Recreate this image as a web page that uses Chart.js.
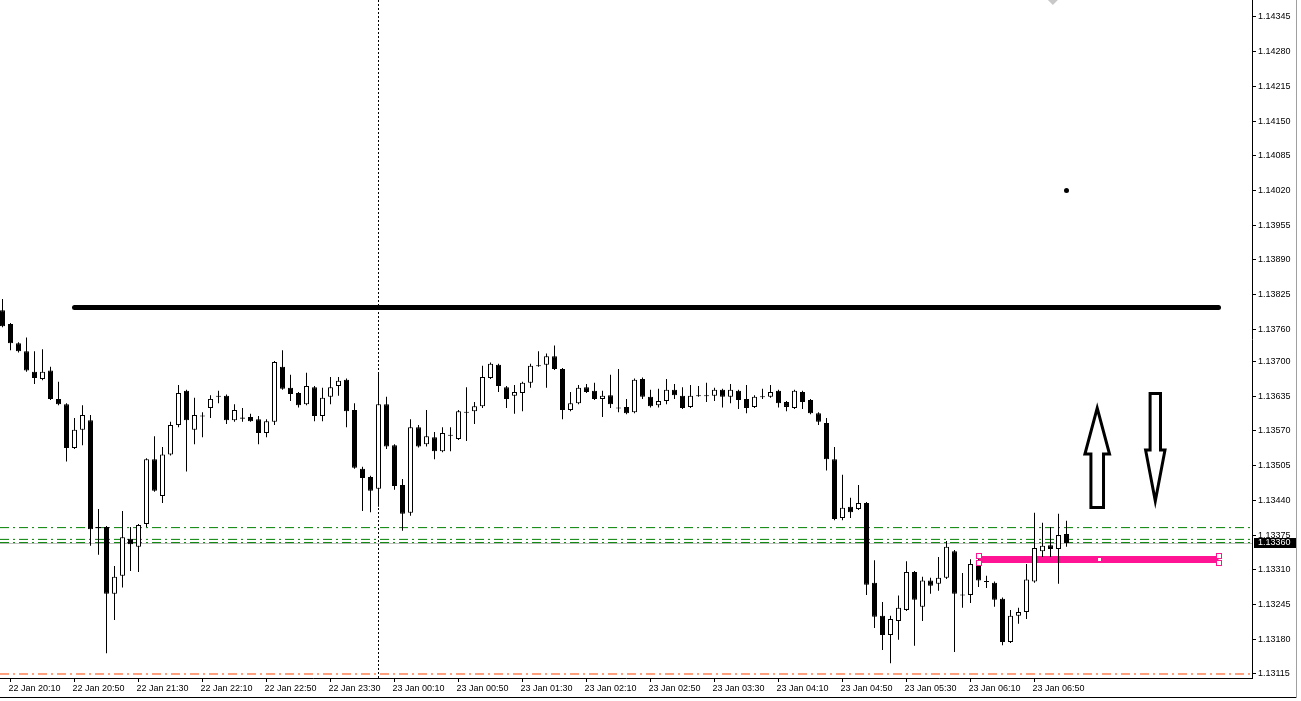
<!DOCTYPE html>
<html>
<head>
<meta charset="utf-8">
<script src="https://cdn.jsdelivr.net/npm/chart.js@4.4.1/dist/chart.umd.min.js"></script>
<style>
  html, body { margin: 0; padding: 0; background: #fff; }
  #wrap { width: 1301px; height: 701px; position: relative; }
</style>
</head>
<body>
<div id="wrap"><canvas id="chart"></canvas></div>
<script>
// M5 bars, first bar is 22 Jan 20:05
const openP = [
  1.13796, 1.13770, 1.13734, 1.13719, 1.13681, 1.13667, 1.13683, 1.13630, 1.13620, 1.13538,
  1.13572, 1.13590, 1.13390, 1.13390, 1.13265, 1.13299, 1.13368, 1.13353, 1.13396, 1.13517,
  1.13448, 1.13526, 1.13581, 1.13645, 1.13572, 1.13597, 1.13613, 1.13634, 1.13636, 1.13590,
  1.13593, 1.13596, 1.13592, 1.13566, 1.13587, 1.13690, 1.13651, 1.13641, 1.13620, 1.13652,
  1.13598, 1.13634, 1.13654, 1.13666, 1.13609, 1.13499, 1.13484, 1.13462, 1.13620, 1.13543,
  1.13469, 1.13417, 1.13577, 1.13545, 1.13558, 1.13532, 1.13561, 1.13555, 1.13604, 1.13607,
  1.13616, 1.13669, 1.13694, 1.13652, 1.13636, 1.13641, 1.13660, 1.13691, 1.13694, 1.13710,
  1.13686, 1.13609, 1.13622, 1.13652, 1.13645, 1.13630, 1.13637, 1.13612, 1.13615, 1.13605,
  1.13667, 1.13634, 1.13618, 1.13626, 1.13647, 1.13636, 1.13615, 1.13635, 1.13635, 1.13636,
  1.13647, 1.13634, 1.13645, 1.13630, 1.13615, 1.13633, 1.13634, 1.13645, 1.13624, 1.13613,
  1.13643, 1.13628, 1.13603, 1.13585, 1.13517, 1.13407, 1.13428, 1.13424, 1.13435, 1.13286,
  1.13224, 1.13188, 1.13214, 1.13235, 1.13306, 1.13241, 1.13290, 1.13284, 1.13295, 1.13345,
  1.13264, 1.13263, 1.13321, 1.13289, 1.13286, 1.13256, 1.13175, 1.13224, 1.13231, 1.13288,
  1.13345, 1.13356, 1.13349, 1.13377
];
const highP = [
  1.13817, 1.13772, 1.13736, 1.13745, 1.13719, 1.13723, 1.13690, 1.13662, 1.13622, 1.13594,
  1.13618, 1.13600, 1.13424, 1.13392, 1.13317, 1.13420, 1.13390, 1.13396, 1.13519, 1.13560,
  1.13540, 1.13587, 1.13656, 1.13647, 1.13632, 1.13605, 1.13637, 1.13645, 1.13638, 1.13620,
  1.13613, 1.13602, 1.13598, 1.13592, 1.13701, 1.13721, 1.13675, 1.13643, 1.13679, 1.13654,
  1.13651, 1.13671, 1.13671, 1.13668, 1.13622, 1.13503, 1.13486, 1.13679, 1.13634, 1.13545,
  1.13480, 1.13592, 1.13581, 1.13609, 1.13568, 1.13577, 1.13577, 1.13609, 1.13652, 1.13624,
  1.13692, 1.13698, 1.13696, 1.13654, 1.13656, 1.13662, 1.13696, 1.13719, 1.13715, 1.13730,
  1.13688, 1.13643, 1.13656, 1.13658, 1.13660, 1.13645, 1.13675, 1.13686, 1.13630, 1.13668,
  1.13670, 1.13647, 1.13649, 1.13667, 1.13658, 1.13652, 1.13656, 1.13654, 1.13660, 1.13651,
  1.13649, 1.13658, 1.13647, 1.13656, 1.13637, 1.13649, 1.13656, 1.13647, 1.13626, 1.13647,
  1.13645, 1.13630, 1.13605, 1.13594, 1.13540, 1.13488, 1.13445, 1.13469, 1.13437, 1.13328,
  1.13250, 1.13224, 1.13262, 1.13326, 1.13308, 1.13297, 1.13295, 1.13334, 1.13364, 1.13347,
  1.13304, 1.13330, 1.13330, 1.13299, 1.13288, 1.13258, 1.13235, 1.13239, 1.13321, 1.13417,
  1.13398, 1.13390, 1.13415, 1.13402
];
const lowP = [
  1.13764, 1.13721, 1.13717, 1.13681, 1.13658, 1.13665, 1.13628, 1.13618, 1.13513, 1.13536,
  1.13543, 1.13355, 1.13338, 1.13154, 1.13216, 1.13277, 1.13308, 1.13306, 1.13390, 1.13456,
  1.13435, 1.13524, 1.13577, 1.13494, 1.13545, 1.13558, 1.13594, 1.13622, 1.13583, 1.13587,
  1.13587, 1.13587, 1.13545, 1.13558, 1.13581, 1.13647, 1.13626, 1.13614, 1.13618, 1.13588,
  1.13588, 1.13620, 1.13636, 1.13577, 1.13499, 1.13420, 1.13418, 1.13428, 1.13536, 1.13460,
  1.13383, 1.13411, 1.13539, 1.13541, 1.13517, 1.13530, 1.13532, 1.13553, 1.13551, 1.13583,
  1.13613, 1.13667, 1.13643, 1.13613, 1.13602, 1.13607, 1.13651, 1.13690, 1.13651, 1.13684,
  1.13592, 1.13607, 1.13620, 1.13641, 1.13628, 1.13596, 1.13613, 1.13605, 1.13601, 1.13603,
  1.13630, 1.13614, 1.13614, 1.13620, 1.13630, 1.13611, 1.13613, 1.13634, 1.13624, 1.13626,
  1.13614, 1.13622, 1.13611, 1.13603, 1.13613, 1.13630, 1.13632, 1.13614, 1.13607, 1.13611,
  1.13611, 1.13601, 1.13581, 1.13496, 1.13403, 1.13403, 1.13407, 1.13422, 1.13263, 1.13201,
  1.13160, 1.13135, 1.13179, 1.13233, 1.13168, 1.13214, 1.13265, 1.13271, 1.13293, 1.13156,
  1.13239, 1.13248, 1.13278, 1.13276, 1.13241, 1.13169, 1.13173, 1.13209, 1.13218, 1.13286,
  1.13334, 1.13334, 1.13284, 1.13353
];
const closeP = [
  1.13766, 1.13734, 1.13719, 1.13683, 1.13669, 1.13681, 1.13630, 1.13620, 1.13538, 1.13572,
  1.13600, 1.13386, 1.13388, 1.13265, 1.13297, 1.13371, 1.13358, 1.13394, 1.13517, 1.13458,
  1.13526, 1.13581, 1.13641, 1.13590, 1.13600, 1.13599, 1.13630, 1.13636, 1.13590, 1.13609,
  1.13595, 1.13588, 1.13566, 1.13588, 1.13699, 1.13649, 1.13639, 1.13618, 1.13654, 1.13598,
  1.13632, 1.13652, 1.13664, 1.13607, 1.13501, 1.13482, 1.13458, 1.13620, 1.13541, 1.13467,
  1.13415, 1.13577, 1.13541, 1.13560, 1.13532, 1.13566, 1.13563, 1.13607, 1.13606, 1.13616,
  1.13671, 1.13696, 1.13654, 1.13630, 1.13643, 1.13660, 1.13692, 1.13693, 1.13710, 1.13686,
  1.13609, 1.13622, 1.13651, 1.13643, 1.13630, 1.13636, 1.13620, 1.13614, 1.13603, 1.13666,
  1.13634, 1.13616, 1.13626, 1.13647, 1.13637, 1.13613, 1.13636, 1.13637, 1.13637, 1.13647,
  1.13634, 1.13647, 1.13628, 1.13613, 1.13634, 1.13635, 1.13643, 1.13622, 1.13615, 1.13645,
  1.13624, 1.13603, 1.13587, 1.13517, 1.13405, 1.13426, 1.13418, 1.13435, 1.13282, 1.13222,
  1.13188, 1.13218, 1.13239, 1.13306, 1.13254, 1.13290, 1.13280, 1.13295, 1.13353, 1.13265,
  1.13262, 1.13321, 1.13290, 1.13287, 1.13254, 1.13175, 1.13224, 1.13231, 1.13292, 1.13351,
  1.13355, 1.13349, 1.13375, 1.13360
];

const timeLabels = [
  '22 Jan 20:10', '22 Jan 20:50', '22 Jan 21:30', '22 Jan 22:10', '22 Jan 22:50', '22 Jan 23:30',
  '23 Jan 00:10', '23 Jan 00:50', '23 Jan 01:30', '23 Jan 02:10', '23 Jan 02:50', '23 Jan 03:30',
  '23 Jan 04:10', '23 Jan 04:50', '23 Jan 05:30', '23 Jan 06:10', '23 Jan 06:50'
];
const timeTickBars = [1, 9, 17, 25, 33, 41, 49, 57, 65, 73, 81, 89, 97, 105, 113, 121, 129];
const priceTicks = [
  1.13115, 1.13180, 1.13245, 1.13310, 1.13375, 1.13440, 1.13505, 1.13570, 1.13635, 1.13700,
  1.13760, 1.13825, 1.13890, 1.13955, 1.14020, 1.14085, 1.14150, 1.14215, 1.14280, 1.14345
];

// objects on the chart
const resistLevel = 1.13801, resistFrom = 9, resistTo = 152;
const greenLevels = [1.13389, 1.13367, 1.13361];
const bidPrice = 1.13360;
const lowLevel = 1.13115;
const pinkLevel = 1.13329, pinkFrom = 122, pinkTo = 152;
const crossBar = 47;
const dotMark = { bar: 133, price: 1.14020 };
const topMark = { bar: 131.3 };
const arrowMarks = [
  { bar: 136.84, top: 1.13624, bottom: 1.13424, dir: 'up' },
  { bar: 144.1, top: 1.13643, bottom: 1.13424, dir: 'down' }
];

const YMIN = 1.131075, YMAX = 1.143767;
const XMIN = -0.3125, XMAX = 156.1875;
const FONT = { family: '"Liberation Sans", Arial, sans-serif', size: 9 };

const bodies = openP.map((o, i) => ({ x: i, y: [o, closeP[i]] }));
const wicks = lowP.map((l, i) => ({ x: i, y: [l, highP[i]] }));
const bodyColors = openP.map((o, i) => closeP[i] > o ? '#ffffff' : '#000000');

function hLine(level, from, to) {
  return [{ x: from, y: level }, { x: to, y: level }];
}

// snap the bid line and the pink bar onto whole pixel rows
const crispLines = {
  id: 'crispLines',
  beforeDatasetDraw(chart, args) {
    const ds = chart.data.datasets[args.index];
    if (!ds.crisp) return;
    const p = chart.scales.y.getPixelForValue(ds.data[0].y);
    chart.ctx.save();
    chart.ctx.translate(0, Math.floor(p) + 0.5 - p);
  },
  afterDatasetDraw(chart, args) {
    if (chart.data.datasets[args.index].crisp) chart.ctx.restore();
  }
};

const extras = {
  id: 'extras',
  afterDraw(chart) {
    const { ctx, chartArea: a, scales: { x, y } } = chart;
    ctx.save();

    // hollow arrows
    ctx.lineWidth = 3;
    ctx.lineJoin = 'miter';
    ctx.miterLimit = 10;
    ctx.strokeStyle = '#000';
    ctx.fillStyle = '#fff';
    arrowMarks.forEach(m => {
      const cx = x.getPixelForValue(m.bar);
      const t = y.getPixelForValue(m.top);
      const b = y.getPixelForValue(m.bottom);
      ctx.beginPath();
      if (m.dir === 'up') {
        const h = t + 52;
        ctx.moveTo(cx, t + 6);
        ctx.lineTo(cx + 12.3, h);
        ctx.lineTo(cx + 6.3, h);
        ctx.lineTo(cx + 6.3, b - 1.5);
        ctx.lineTo(cx - 6.3, b - 1.5);
        ctx.lineTo(cx - 6.3, h);
        ctx.lineTo(cx - 12.3, h);
      } else {
        const h = b - 59;
        ctx.moveTo(cx - 5.2, t + 1.5);
        ctx.lineTo(cx + 5.2, t + 1.5);
        ctx.lineTo(cx + 5.2, h);
        ctx.lineTo(cx + 9.7, h);
        ctx.lineTo(cx, b - 8);
        ctx.lineTo(cx - 9.7, h);
        ctx.lineTo(cx - 5.2, h);
      }
      ctx.closePath();
      ctx.fill();
      ctx.stroke();
    });

    // selection handles of the pink line
    const py = Math.floor(y.getPixelForValue(pinkLevel)) + 0.5;
    ctx.lineWidth = 1;
    ctx.strokeStyle = '#ff1493';
    ctx.fillStyle = '#fff';
    [pinkFrom, pinkTo].forEach(bar => {
      const hx = Math.round(x.getPixelForValue(bar));
      [py - 3.5, py + 3.5].forEach(hy => {
        const yy = Math.round(hy);
        ctx.fillRect(hx - 2, yy - 2, 4, 4);
        ctx.strokeRect(hx - 2.5, yy - 2.5, 5, 5);
      });
    });
    const mx = Math.round(x.getPixelForValue((pinkFrom + pinkTo) / 2));
    ctx.fillRect(mx - 1, Math.floor(py) - 1, 3, 3);

    // bid price box on the scale
    const by = Math.round(y.getPixelForValue(bidPrice));
    ctx.fillStyle = '#000';
    ctx.fillRect(a.right + 2, by - 5, 42, 10);
    ctx.fillStyle = '#fff';
    ctx.font = FONT.size + 'px ' + FONT.family;
    ctx.textBaseline = 'middle';
    ctx.textAlign = 'left';
    ctx.fillText(bidPrice.toFixed(5), a.right + 6, by);

    // window frame
    ctx.fillStyle = '#000';
    ctx.fillRect(0, 697, 1297, 1);
    ctx.fillStyle = '#a0a0a0';
    ctx.fillRect(1296, 0, 1, 698);
    ctx.restore();
  }
};

new Chart(document.getElementById('chart'), {
  type: 'bar',
  data: {
    datasets: [
      {
        label: 'body', data: bodies, order: 0, grouped: false,
        backgroundColor: bodyColors, borderColor: '#000', borderWidth: 1,
        borderSkipped: false, barThickness: 5, minBarLength: 1, inflateAmount: 0
      },
      {
        label: 'wick', data: wicks, order: 1, grouped: false,
        backgroundColor: '#000', borderWidth: 0, barThickness: 1, minBarLength: 1, inflateAmount: 0
      },
      {
        type: 'line', label: 'resistance', data: hLine(resistLevel, resistFrom, resistTo), order: 2,
        borderColor: '#000', borderWidth: 5, borderCapStyle: 'round', pointRadius: 0
      },
      ...greenLevels.map(lv => ({
        type: 'line', label: 'level', data: hLine(lv, XMIN, XMAX), order: 4,
        borderColor: '#008000', borderWidth: 1, borderDash: [9, 4, 2, 4], pointRadius: 0
      })),
      {
        type: 'line', label: 'bid', data: hLine(bidPrice, XMIN, XMAX), order: 5, crisp: true,
        borderColor: '#c0c0c0', borderWidth: 1, pointRadius: 0
      },
      {
        type: 'line', label: 'low', data: hLine(lowLevel, XMIN, XMAX), order: 4,
        borderColor: '#ff4500', borderWidth: 1, borderDash: [9, 4, 2, 4], pointRadius: 0
      },
      {
        type: 'line', label: 'pink', data: hLine(pinkLevel, pinkFrom, pinkTo), order: 3, crisp: true,
        borderColor: '#ff1493', borderWidth: 7, borderCapStyle: 'butt', pointRadius: 0
      },
      {
        type: 'line', label: 'cross', data: [{ x: crossBar, y: YMIN }, { x: crossBar, y: YMAX }], order: 6,
        borderColor: '#000', borderWidth: 1, borderDash: [2, 2], pointRadius: 0
      },
      {
        type: 'line', label: 'dot', data: [{ x: dotMark.bar, y: dotMark.price }], order: 2,
        showLine: false, pointRadius: 2.5, pointBackgroundColor: '#000', pointBorderWidth: 0
      },
      {
        type: 'line', label: 'top', data: [{ x: topMark.bar, y: YMAX }], order: 2,
        showLine: false, pointStyle: 'rectRot', pointRadius: 5,
        pointBackgroundColor: '#c8c8c8', pointBorderWidth: 0
      }
    ]
  },
  options: {
    responsive: true,
    maintainAspectRatio: false,
    animation: false,
    events: [],
    layout: { padding: 0, autoPadding: false },
    plugins: { legend: { display: false }, tooltip: { enabled: false } },
    scales: {
      x: {
        type: 'linear', position: 'bottom', min: XMIN, max: XMAX, offset: false,
        afterFit(s) { s.height = 23; s.paddingLeft = 0; s.paddingRight = 0; },
        afterBuildTicks(s) { s.ticks = timeTickBars.map(v => ({ value: v })); },
        ticks: {
          autoSkip: false, maxRotation: 0, align: 'start', labelOffset: -2, padding: 1,
          color: '#000', font: FONT,
          callback: (v, i) => timeLabels[i]
        },
        grid: { offset: false, drawOnChartArea: false, drawTicks: true, tickLength: 4, color: '#000' },
        border: { display: true, color: '#000', width: 1 }
      },
      y: {
        type: 'linear', position: 'right', min: YMIN, max: YMAX,
        afterFit(s) { s.width = 49; s.paddingTop = 0; s.paddingBottom = 0; },
        afterBuildTicks(s) { s.ticks = priceTicks.map(v => ({ value: v })); },
        ticks: {
          autoSkip: false, padding: 2, color: '#000', font: FONT,
          callback: v => v.toFixed(5)
        },
        grid: { drawOnChartArea: false, drawTicks: true, tickLength: 4, color: '#000' },
        border: { display: true, color: '#000', width: 1 }
      }
    }
  },
  plugins: [crispLines, extras]
});
</script>
</body>
</html>
